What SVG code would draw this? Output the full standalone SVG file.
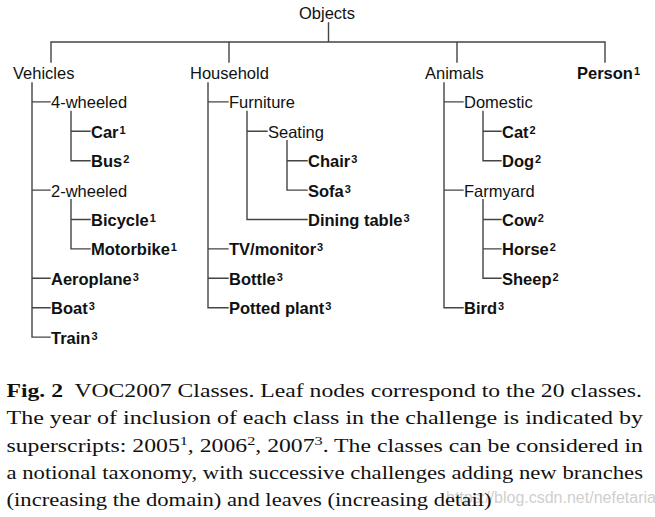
<svg xmlns="http://www.w3.org/2000/svg" width="655" height="517" viewBox="0 0 655 517">
<style>
.t{font-family:"Liberation Sans",Arial,Helvetica,sans-serif;font-size:16.5px;fill:#111}
.b{font-weight:bold}
.s{font-size:11px;font-weight:bold}
.c{stroke:#444;stroke-width:1.4;fill:none;stroke-linecap:square}
.cap{font-family:"Liberation Serif","Times New Roman",serif;font-size:19px;fill:#111}
.cs{font-size:13px}
.wm{font-family:"Liberation Sans",Arial,sans-serif;font-size:16px;fill:#cfcfcf}
</style>
<rect width="655" height="517" fill="#fff"/>
<g id="connectors" class="c">
<path d="M328.5,23V42M51,42H605M51,42V62M229,42V62M457,42V62M605,42V62"/>
<path d="M32,83V337.1H50M32,101.9H50M32,190.1H50M32,278.3H50M32,307.7H50"/>
<path d="M71,111.4V160.7H90M71,131.3H90"/>
<path d="M71,199.6V248.9H90M71,219.5H90"/>
<path d="M208,83V307.7H228M208,101.9H228M208,248.9H228M208,278.3H228"/>
<path d="M247,111.4V219.5H307M247,131.3H267"/>
<path d="M287,140.8V190.1H307M287,160.7H307"/>
<path d="M444,83V307.7H463M444,101.9H463M444,190.1H463"/>
<path d="M483,111.4V160.7H501M483,131.3H501"/>
<path d="M483,199.6V278.3H501M483,219.5H501M483,248.9H501"/>
</g>
<g id="objects"><text class="t" x="299" y="19">Objects</text></g>
<g id="vehicles"><text class="t" x="13" y="79">Vehicles</text></g>
<g id="household"><text class="t" x="190" y="79">Household</text></g>
<g id="animals"><text class="t" x="425" y="79">Animals</text></g>
<g id="person"><text class="t b" x="577" y="79">Person<tspan class="s" dx="1" dy="-4">1</tspan></text></g>
<g id="four-wheeled"><text class="t" x="51" y="108.4">4-wheeled</text></g>
<g id="car"><text class="t b" x="91" y="137.8">Car<tspan class="s" dx="1" dy="-4">1</tspan></text></g>
<g id="bus"><text class="t b" x="91" y="167.2">Bus<tspan class="s" dx="1" dy="-4">2</tspan></text></g>
<g id="two-wheeled"><text class="t" x="51" y="196.6">2-wheeled</text></g>
<g id="bicycle"><text class="t b" x="91" y="226">Bicycle<tspan class="s" dx="1" dy="-4">1</tspan></text></g>
<g id="motorbike"><text class="t b" x="91" y="255.4">Motorbike<tspan class="s" dx="1" dy="-4">1</tspan></text></g>
<g id="aeroplane"><text class="t b" x="51" y="284.8">Aeroplane<tspan class="s" dx="1" dy="-4">3</tspan></text></g>
<g id="boat"><text class="t b" x="51" y="314.2">Boat<tspan class="s" dx="1" dy="-4">3</tspan></text></g>
<g id="train"><text class="t b" x="51" y="343.6">Train<tspan class="s" dx="1" dy="-4">3</tspan></text></g>
<g id="furniture"><text class="t" x="229" y="108.4">Furniture</text></g>
<g id="seating"><text class="t" x="268" y="137.8">Seating</text></g>
<g id="chair"><text class="t b" x="308" y="167.2">Chair<tspan class="s" dx="1" dy="-4">3</tspan></text></g>
<g id="sofa"><text class="t b" x="308" y="196.6">Sofa<tspan class="s" dx="1" dy="-4">3</tspan></text></g>
<g id="dining-table"><text class="t b" x="308" y="226">Dining table<tspan class="s" dx="1" dy="-4">3</tspan></text></g>
<g id="tv-monitor"><text class="t b" x="229" y="255.4">TV/monitor<tspan class="s" dx="1" dy="-4">3</tspan></text></g>
<g id="bottle"><text class="t b" x="229" y="284.8">Bottle<tspan class="s" dx="1" dy="-4">3</tspan></text></g>
<g id="potted-plant"><text class="t b" x="229" y="314.2">Potted plant<tspan class="s" dx="1" dy="-4">3</tspan></text></g>
<g id="domestic"><text class="t" x="464" y="108.4">Domestic</text></g>
<g id="cat"><text class="t b" x="502" y="137.8">Cat<tspan class="s" dx="1" dy="-4">2</tspan></text></g>
<g id="dog"><text class="t b" x="502" y="167.2">Dog<tspan class="s" dx="1" dy="-4">2</tspan></text></g>
<g id="farmyard"><text class="t" x="464" y="196.6">Farmyard</text></g>
<g id="cow"><text class="t b" x="502" y="226">Cow<tspan class="s" dx="1" dy="-4">2</tspan></text></g>
<g id="horse"><text class="t b" x="502" y="255.4">Horse<tspan class="s" dx="1" dy="-4">2</tspan></text></g>
<g id="sheep"><text class="t b" x="502" y="284.8">Sheep<tspan class="s" dx="1" dy="-4">2</tspan></text></g>
<g id="bird"><text class="t b" x="464" y="314.2">Bird<tspan class="s" dx="1" dy="-4">3</tspan></text></g>
<g id="caption">
<text class="wm" x="446" y="503">https://blog.csdn.net/nefetaria</text>
<text class="cap" x="6.5" y="397" textLength="635.5" lengthAdjust="spacingAndGlyphs"><tspan font-weight="bold">Fig. 2</tspan>&#160; VOC2007 Classes. Leaf nodes correspond to the 20 classes.</text>
<text class="cap" x="6.5" y="424" textLength="636.5" lengthAdjust="spacingAndGlyphs">The year of inclusion of each class in the challenge is indicated by</text>
<text class="cap" x="6.5" y="451.5" textLength="636.5" lengthAdjust="spacingAndGlyphs">superscripts: 2005<tspan class="cs" dy="-7">1</tspan><tspan dy="7">, 2006</tspan><tspan class="cs" dy="-7">2</tspan><tspan dy="7">, 2007</tspan><tspan class="cs" dy="-7">3</tspan><tspan dy="7">. The classes can be considered in</tspan></text>
<text class="cap" x="6.5" y="478.5" textLength="636.5" lengthAdjust="spacingAndGlyphs">a notional taxonomy, with successive challenges adding new branches</text>
<text class="cap" x="6.5" y="505.5" textLength="485" lengthAdjust="spacingAndGlyphs">(increasing the domain) and leaves (increasing detail)</text>
</g>
</svg>
